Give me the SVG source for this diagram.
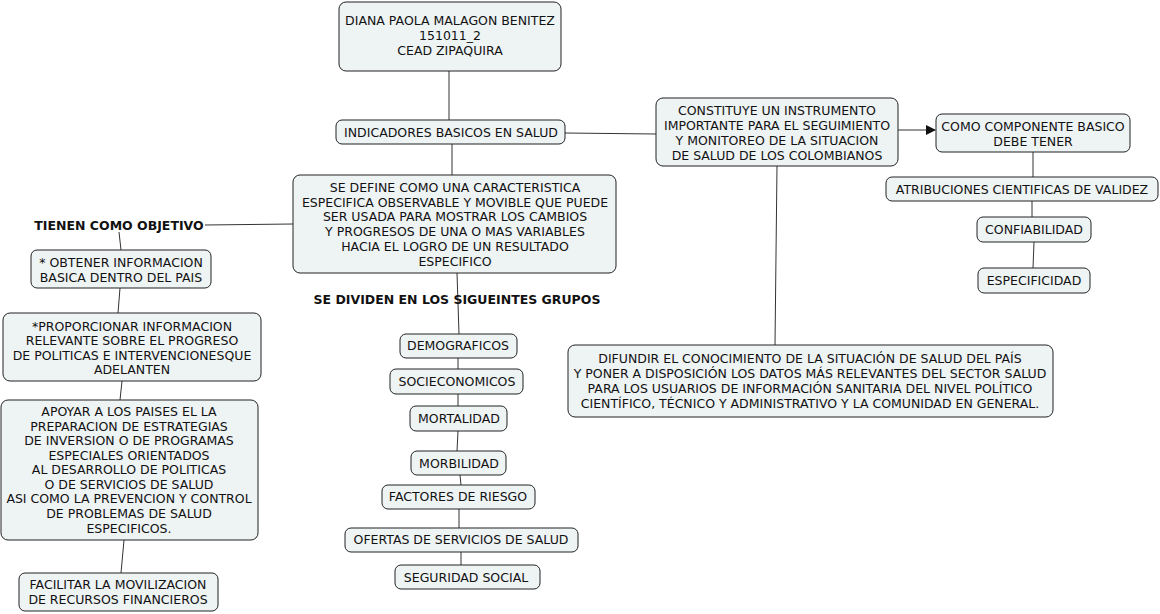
<svg xmlns="http://www.w3.org/2000/svg" width="1160" height="614" viewBox="0 0 1160 614">
<style>
.n rect{fill:#eef3f4;stroke:#222;stroke-width:1}
text{font-family:"DejaVu Sans","Verdana",sans-serif;font-size:12.5px;fill:#111;text-anchor:middle;dominant-baseline:central}
.b{font-weight:bold}
.c line{stroke:#333;stroke-width:1}
</style>
<defs><marker id="ar" markerWidth="10" markerHeight="10" refX="9" refY="5" orient="auto" markerUnits="userSpaceOnUse"><path d="M0,0 L10,5 L0,10 z" fill="#111"/></marker></defs>
<rect width="1160" height="614" fill="#fff"/>
<g class="c">
<line x1="449" y1="71" x2="449" y2="120"/>
<line x1="565" y1="133" x2="656" y2="134"/>
<line x1="452" y1="144" x2="452" y2="175"/>
<line x1="898" y1="130" x2="935" y2="130" marker-end="url(#ar)"/>
<line x1="1033" y1="152" x2="1033" y2="177"/>
<line x1="1032" y1="201" x2="1032" y2="217"/>
<line x1="1034" y1="242" x2="1033" y2="268"/>
<line x1="777" y1="166" x2="775" y2="345"/>
<line x1="293" y1="224" x2="205" y2="225"/>
<line x1="119" y1="232" x2="121" y2="250"/>
<line x1="120" y1="288" x2="118" y2="313"/>
<line x1="122" y1="381" x2="120" y2="400"/>
<line x1="124" y1="540" x2="121" y2="573"/>
<line x1="457" y1="273" x2="459" y2="334"/>
<line x1="458" y1="358" x2="458" y2="369"/>
<line x1="458" y1="394" x2="458" y2="406"/>
<line x1="458" y1="431" x2="457" y2="451"/>
<line x1="460" y1="475" x2="461" y2="485"/>
<line x1="459" y1="509" x2="459" y2="528"/>
<line x1="461" y1="552" x2="461" y2="565"/>
</g>
<g id="diana" class="n"><rect x="339" y="2" width="222" height="69" rx="7"/><text x="450" y="20">DIANA PAOLA MALAGON BENITEZ</text><text x="450" y="35">151011_2</text><text x="450" y="50">CEAD ZIPAQUIRA</text></g>
<g id="indicadores" class="n"><rect x="336" y="120" width="229" height="24" rx="6"/><text x="451" y="132">INDICADORES BASICOS EN SALUD</text></g>
<g id="constituye" class="n"><rect x="656" y="98" width="242" height="68" rx="7"/><text x="777" y="110">CONSTITUYE UN INSTRUMENTO</text><text x="777" y="125">IMPORTANTE PARA EL SEGUIMIENTO</text><text x="777" y="140">Y MONITOREO DE LA SITUACION</text><text x="777" y="155">DE SALUD DE LOS COLOMBIANOS</text></g>
<g id="componente" class="n"><rect x="936" y="114" width="194" height="38" rx="6"/><text x="1033" y="126">COMO COMPONENTE BASICO</text><text x="1033" y="141">DEBE TENER</text></g>
<g id="atribuciones" class="n"><rect x="886" y="177" width="272" height="24" rx="6"/><text x="1022" y="189">ATRIBUCIONES CIENTIFICAS DE VALIDEZ</text></g>
<g id="confiabilidad" class="n"><rect x="977" y="217" width="114" height="25" rx="6"/><text x="1034" y="229">CONFIABILIDAD</text></g>
<g id="especificidad" class="n"><rect x="978" y="268" width="112" height="25" rx="6"/><text x="1034" y="280">ESPECIFICIDAD</text></g>
<g id="define" class="n"><rect x="293" y="175" width="323" height="98" rx="7"/><text x="455" y="187">SE DEFINE COMO UNA CARACTERISTICA</text><text x="455" y="202">ESPECIFICA OBSERVABLE Y MOVIBLE QUE PUEDE</text><text x="455" y="216">SER USADA PARA MOSTRAR LOS CAMBIOS</text><text x="455" y="231">Y PROGRESOS DE UNA O MAS VARIABLES</text><text x="455" y="246">HACIA EL LOGRO DE UN RESULTADO</text><text x="455" y="261">ESPECIFICO</text></g>
<g id="tienen"><text class="b" x="119" y="225">TIENEN COMO OBJETIVO</text></g>
<g id="obtener" class="n"><rect x="31" y="250" width="180" height="38" rx="6"/><text x="121" y="262">* OBTENER INFORMACION</text><text x="121" y="277">BASICA DENTRO DEL PAIS</text></g>
<g id="proporcionar" class="n"><rect x="3" y="313" width="258" height="68" rx="7"/><text x="132" y="326">*PROPORCIONAR INFORMACION</text><text x="132" y="340">RELEVANTE SOBRE EL PROGRESO</text><text x="132" y="355">DE POLITICAS E INTERVENCIONESQUE</text><text x="132" y="369">ADELANTEN</text></g>
<g id="apoyar" class="n"><rect x="1" y="400" width="257" height="140" rx="7"/><text x="129" y="411">APOYAR A LOS PAISES EL LA</text><text x="129" y="426">PREPARACION DE ESTRATEGIAS</text><text x="129" y="440">DE INVERSION O DE PROGRAMAS</text><text x="129" y="455">ESPECIALES ORIENTADOS</text><text x="129" y="469">AL DESARROLLO DE POLITICAS</text><text x="129" y="484">O DE SERVICIOS DE SALUD</text><text x="129" y="498">ASI COMO LA PREVENCION Y CONTROL</text><text x="129" y="513">DE PROBLEMAS DE SALUD</text><text x="129" y="528">ESPECIFICOS.</text></g>
<g id="facilitar" class="n"><rect x="19" y="573" width="199" height="38" rx="6"/><text x="118" y="584">FACILITAR LA MOVILIZACION</text><text x="118" y="599">DE RECURSOS FINANCIEROS</text></g>
<g id="dividen"><text class="b" x="457" y="299">SE DIVIDEN EN LOS SIGUEINTES GRUPOS</text></g>
<g id="demograficos" class="n"><rect x="400" y="334" width="117" height="24" rx="6"/><text x="458" y="345">DEMOGRAFICOS</text></g>
<g id="socioeconomicos" class="n"><rect x="390" y="369" width="133" height="25" rx="6"/><text x="457" y="381">SOCIECONOMICOS</text></g>
<g id="mortalidad" class="n"><rect x="410" y="406" width="97" height="25" rx="6"/><text x="459" y="418">MORTALIDAD</text></g>
<g id="morbilidad" class="n"><rect x="411" y="451" width="95" height="24" rx="6"/><text x="459" y="463">MORBILIDAD</text></g>
<g id="factores" class="n"><rect x="382" y="485" width="153" height="24" rx="6"/><text x="458" y="496">FACTORES DE RIESGO</text></g>
<g id="ofertas" class="n"><rect x="345" y="528" width="233" height="24" rx="6"/><text x="461" y="539">OFERTAS DE SERVICIOS DE SALUD</text></g>
<g id="seguridad" class="n"><rect x="395" y="565" width="145" height="24" rx="6"/><text x="466" y="577">SEGURIDAD SOCIAL</text></g>
<g id="difundir" class="n"><rect x="568" y="345" width="485" height="72" rx="7"/><text x="810" y="358">DIFUNDIR EL CONOCIMIENTO DE LA SITUACIÓN DE SALUD DEL PAÍS</text><text x="810" y="373">Y PONER A DISPOSICIÓN LOS DATOS MÁS RELEVANTES DEL SECTOR SALUD</text><text x="810" y="388">PARA LOS USUARIOS DE INFORMACIÓN SANITARIA DEL NIVEL POLÍTICO</text><text x="810" y="403">CIENTÍFICO, TÉCNICO Y ADMINISTRATIVO Y LA COMUNIDAD EN GENERAL.</text></g>
</svg>
